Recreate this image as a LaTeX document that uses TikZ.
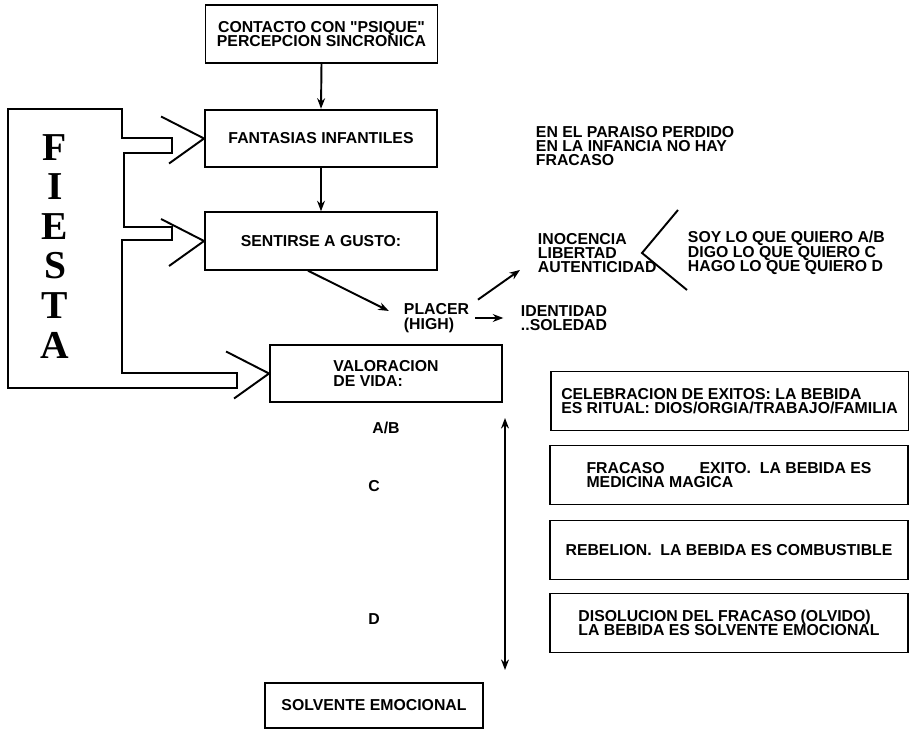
\documentclass[tikz,border=0pt]{standalone}
\usepackage{fontspec}
\newfontfamily\plotfont{Liberation Sans}
\newfontfamily\fiestafont{Liberation Serif}
\usetikzlibrary{arrows.meta, positioning, calc}

\begin{document}
\begin{tikzpicture}[
        x=0.02cm, y=-0.02cm, line width=1.1pt,
        every node/.style={font=\plotfont\bfseries\fontsize{9}{8.2}\selectfont, inner sep=0pt},
        box/.style={draw, line width=1.1pt, minimum width=4.64cm, minimum height=1.15cm, align=center},
        sidebox/.style={draw, line width=1.1pt, minimum width=7.16cm, minimum height=1.18cm, align=left},
        note/.style={anchor=west, align=left},
        arr/.style={-{Stealth[length=6pt, width=4.5pt]}, line width=1.1pt}
    ]
        \useasboundingbox (0,0) rectangle (910,729);

        % Main column
        \node[box] (psique) at (321.5,34) {CONTACTO CON "PSIQUE"\\PERCEPCION SINCRONICA};
        \node[box] (fant) at (321,138.5) {FANTASIAS INFANTILES};
        \node[box] (gusto) at (321,241) {SENTIRSE A GUSTO:};
        \node[box, align=left] (valor) at (386,373.5) {VALORACION\\DE VIDA:};
        \node[box, minimum width=4.36cm, minimum height=0.9cm] (solv) at (374,705.5) {SOLVENTE EMOCIONAL};

        % Right column
        \node[sidebox] (celeb) at (729.5,401) {CELEBRACION DE EXITOS: LA BEBIDA\\ES RITUAL: DIOS/ORGIA/TRABAJO/FAMILIA};
        \node[sidebox] (fracaso) at (729,475) {FRACASO\hspace{2.2em}EXITO.\ \ LA BEBIDA ES\\MEDICINA MAGICA};
        \node[sidebox] (rebel) at (729,550) {REBELION.\ \ LA BEBIDA ES COMBUSTIBLE};
        \node[sidebox] (disol) at (729,623) {DISOLUCION DEL FRACASO (OLVIDO)\\LA BEBIDA ES SOLVENTE EMOCIONAL};

        % Free labels
        \node[note] (paraiso) at (535,146) {EN EL PARAISO PERDIDO\\EN LA INFANCIA NO HAY\\FRACASO};
        \node[note] (inoc) at (537,253) {INOCENCIA\\LIBERTAD\\AUTENTICIDAD};
        \node[note] (soy) at (687,253) {SOY LO QUE QUIERO A/B\\DIGO LO QUE QUIERO C\\HAGO LO QUE QUIERO D};
        \node[note] (placer) at (403,318) {PLACER\\(HIGH)};
        \node[note] (ident) at (520,318) {IDENTIDAD\\..SOLEDAD};
        \node (lvlab) at (386,428) {A/B};
        \node (lvlc) at (374,486) {C};
        \node (lvld) at (374,619) {D};

        % FIESTA frame
        \draw (8,109) -- (122,109) -- (122,138) -- (172,138) -- (172,153) -- (124,153)
            -- (124,227) -- (172,227) -- (172,240) -- (122,240) -- (122,373)
            -- (237,373) -- (237,388) -- (8,388) -- cycle;
        \foreach \l [count=\i] in {F,I,E,S,T,A} {
            \node[font=\fiestafont\bfseries\fontsize{22.5}{22.5}\selectfont] (fiesta\i) at (55,108+39.5*\i) {\l};
        }
        \foreach \n in {fant,gusto,valor} {
            \draw ($(\n.west)+(-43,-22)$) -- (\n.west) -- ($(\n.west)+(-35,25)$);
        }

        % Arrows
        \draw[arr] (psique.south) -- (fant.north);
        \draw[arr] (fant.south) -- (gusto.north);
        \draw[arr, shorten >=9pt] ($(gusto.south)+(-13,0)$) -- (placer.west);
        \draw[arr] ($(placer.north east)+(8,-3)$) -- ($(inoc.south west)+(-17,-4)$);
        \draw[arr, shorten <=3pt, shorten >=9.5pt] (placer.east) -- (ident.west);
        \draw ($(soy.west)+(-9,-43)$) -- ($(soy.west)+(-45,0)$) -- ($(soy.west)+(0,37)$);

        % Scale A/B .. D
        \coordinate (scaletop) at (505,418);
        \coordinate (scalebot) at (505,670);
        \draw[{Stealth[length=6pt, width=4.5pt]}-{Stealth[length=6pt, width=4.5pt]}] (scaletop) -- (scalebot);
    \end{tikzpicture}
\end{document}
